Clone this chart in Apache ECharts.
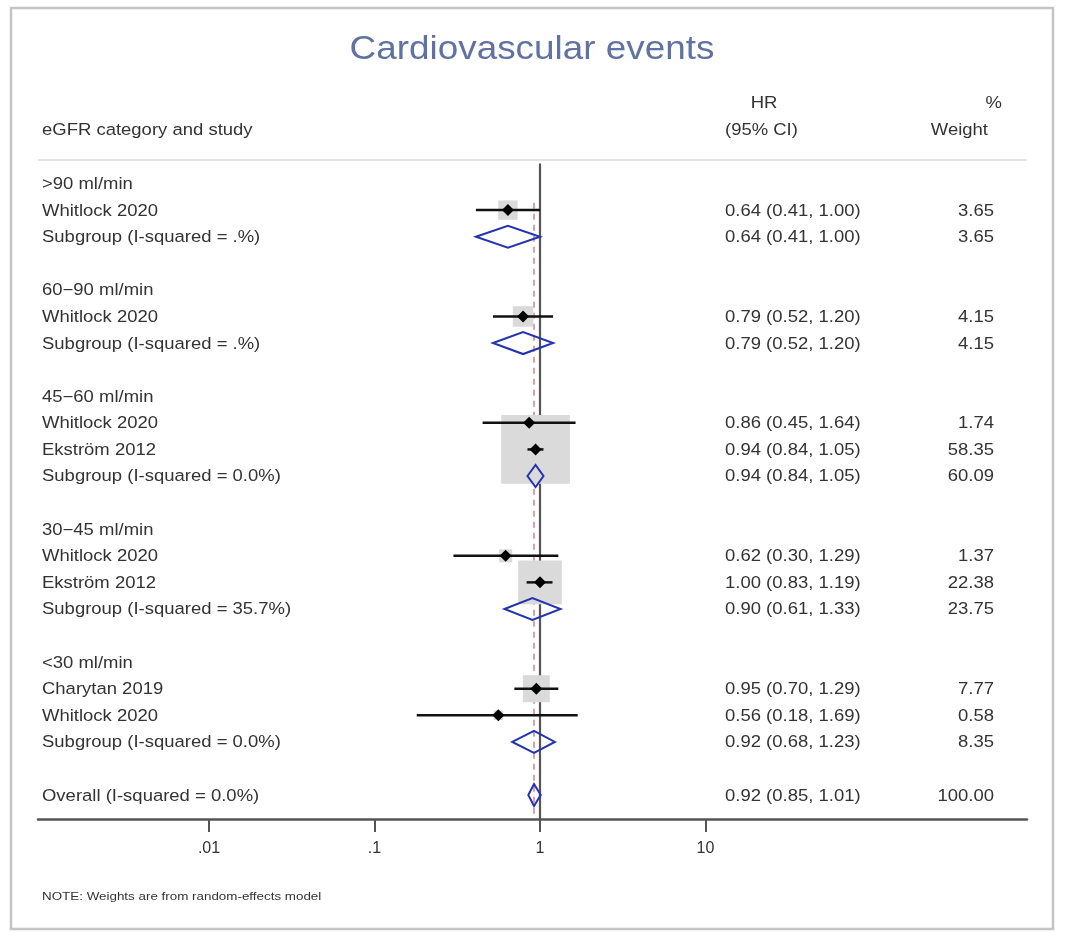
<!DOCTYPE html>
<html>
<head>
<meta charset="utf-8">
<title>Cardiovascular events</title>
<script src="https://cdn.jsdelivr.net/npm/echarts@6.0.0/dist/echarts.min.js"></script>
<style>
html, body { margin: 0; padding: 0; background: #fff; }
#chart { width: 1066px; height: 937px; }
</style>
</head>
<body>
<div id="chart"></div>
<script>
// eGFR subgroups and the studies in them
const groupNames = ['>90 ml/min', '60−90 ml/min', '45−60 ml/min', '30−45 ml/min', '<30 ml/min']
const studyNames = ['Whitlock 2020', 'Whitlock 2020', 'Whitlock 2020', 'Ekström 2012', 'Whitlock 2020', 'Ekström 2012', 'Charytan 2019', 'Whitlock 2020']
const studyGroup = [0, 1, 2, 2, 3, 3, 4, 4]
const studyHR = [0.64, 0.79, 0.86, 0.94, 0.62, 1.00, 0.95, 0.56]
const studyLo = [0.41, 0.52, 0.45, 0.84, 0.30, 0.83, 0.70, 0.18]
const studyHi = [1.00, 1.20, 1.64, 1.05, 1.29, 1.19, 1.29, 1.69]
const studyWeight = [3.65, 4.15, 1.74, 58.35, 1.37, 22.38, 7.77, 0.58]

// pooled subgroup results
const subHR = [0.64, 0.79, 0.94, 0.90, 0.92]
const subLo = [0.41, 0.52, 0.84, 0.61, 0.68]
const subHi = [1.00, 1.20, 1.05, 1.33, 1.23]
const subWeight = [3.65, 4.15, 60.09, 23.75, 8.35]
const subI2 = ['.%', '.%', '0.0%', '35.7%', '0.0%']

// overall
const overallHR = 0.92
const overallLo = 0.85
const overallHi = 1.01
const overallWeight = 100.00
const overallI2 = '0.0%'

// x axis
const tickValues = [0.01, 0.1, 1, 10]
const tickLabels = ['.01', '.1', '1', '10']

const lg = v => Math.log10(v)
const fmtCI = (h, l, u) => h.toFixed(2) + ' (' + l.toFixed(2) + ', ' + u.toFixed(2) + ')'

// lay rows out: group title, studies, subgroup, blank line
let row = 0
const textRows = []
const studyRows = []
const diamondRows = []
groupNames.forEach((g, gi) => {
  textRows.push([row, g, '', ''])
  row++
  studyGroup.forEach((sg, i) => {
    if (sg !== gi) return
    textRows.push([row, studyNames[i], fmtCI(studyHR[i], studyLo[i], studyHi[i]), studyWeight[i].toFixed(2)])
    studyRows.push([lg(studyHR[i]), lg(studyLo[i]), lg(studyHi[i]), row, studyWeight[i]])
    row++
  })
  textRows.push([row, 'Subgroup (I-squared = ' + subI2[gi] + ')', fmtCI(subHR[gi], subLo[gi], subHi[gi]), subWeight[gi].toFixed(2)])
  diamondRows.push([lg(subHR[gi]), lg(subLo[gi]), lg(subHi[gi]), row])
  row += 2
})
textRows.push([row, 'Overall (I-squared = ' + overallI2 + ')', fmtCI(overallHR, overallLo, overallHi), overallWeight.toFixed(2)])
diamondRows.push([lg(overallHR), lg(overallLo), lg(overallHi), row])
const axisRow = row + 0.9

// layout
const gridLeft = 38
const gridRight = 1027
const oneAt = 540        // pixel of HR = 1
const decadePx = 165.5
const xMin = (gridLeft - oneAt) / decadePx
const xMax = (gridRight - oneAt) / decadePx
const FONT = '"Liberation Sans", Arial, Helvetica, sans-serif'
const SX = 1.135
const txtColor = '#333'

function txt(text, x, y, size, align, color) {
  return {
    type: 'text', x: x, y: y, scaleX: SX,
    style: {
      text: text, font: size + 'px ' + FONT, fill: color || txtColor,
      align: align, verticalAlign: 'middle', textAlign: align, textVerticalAlign: 'middle'
    }
  }
}

const chart = echarts.init(document.getElementById('chart'))

const option = {
  backgroundColor: '#fff',
  animation: false,
  grid: { left: gridLeft, width: gridRight - gridLeft, top: 24, height: 795, outerBoundsMode: 'none' },
  xAxis: {
    type: 'value', min: xMin, max: xMax,
    splitLine: { show: false },
    axisLine: { show: true, onZero: false, lineStyle: { color: '#555', width: 2.5 } },
    axisTick: { show: true, customValues: tickValues.map(lg), length: 13, lineStyle: { color: '#555', width: 2 } },
    axisLabel: {
      show: true, customValues: tickValues.map(lg), margin: 22,
      fontSize: 16, fontFamily: FONT, color: txtColor,
      formatter: v => {
        const i = tickValues.findIndex(t => Math.abs(lg(t) - v) < 1e-6)
        return i >= 0 ? tickLabels[i] : ''
      }
    }
  },
  yAxis: { type: 'value', min: -6, max: axisRow, inverse: true, show: false },
  graphic: [
    { type: 'rect', shape: { x: 11, y: 8, width: 1042, height: 921 }, style: { fill: 'none', stroke: '#c4c4c4', lineWidth: 2.5 } },
    { type: 'line', shape: { x1: gridLeft, y1: 160, x2: gridRight, y2: 160 }, style: { stroke: '#e4e4e4', lineWidth: 2 } },
    txt('Cardiovascular events', 532, 50, 32.5, 'center', '#5f72a2'),
    txt('eGFR category and study', 42, 131, 16.3, 'left'),
    txt('HR', 764, 104, 16.3, 'center'),
    txt('(95% CI)', 725, 131, 16.3, 'left'),
    txt('%', 1002, 104, 16.3, 'right'),
    txt('Weight', 988, 131, 16.3, 'right'),
    txt('NOTE: Weights are from random-effects model', 42, 897, 11.8, 'left')
  ],
  series: [
    {
      // null line at HR = 1 and dashed line at the overall estimate
      type: 'custom', z: 1, silent: true,
      encode: { x: 0, y: 1 },
      data: [[0, -0.75, axisRow, 0], [lg(overallHR), 0.72, axisRow, 1]],
      renderItem: (params, api) => {
        const a = api.coord([api.value(0), api.value(1)])
        const b = api.coord([api.value(0), api.value(2)])
        const dashed = api.value(3) === 1
        return {
          type: 'line',
          shape: { x1: a[0], y1: a[1], x2: b[0], y2: b[1] },
          style: dashed ? { stroke: '#d88f9a', lineWidth: 1.7, lineDash: [6, 5] } : { stroke: '#555', lineWidth: 2.2 }
        }
      }
    },
    {
      // weight boxes
      type: 'custom', z: 2, silent: true,
      encode: { x: 0, y: 3 },
      data: studyRows,
      renderItem: (params, api) => {
        const c = api.coord([api.value(0), api.value(3)])
        const s = 3 + 8.6 * Math.sqrt(api.value(4))
        return { type: 'rect', shape: { x: c[0] - s / 2, y: c[1] - s / 2, width: s, height: s }, style: { fill: '#dadada' } }
      }
    },
    {
      // confidence intervals and point estimates
      type: 'custom', z: 3, silent: true,
      encode: { x: 0, y: 3 },
      data: studyRows,
      renderItem: (params, api) => {
        const c = api.coord([api.value(0), api.value(3)])
        const lo = api.coord([api.value(1), api.value(3)])
        const hi = api.coord([api.value(2), api.value(3)])
        const r = 6
        return {
          type: 'group',
          children: [
            { type: 'line', shape: { x1: lo[0], y1: lo[1], x2: hi[0], y2: hi[1] }, style: { stroke: '#111', lineWidth: 2.5 } },
            { type: 'polygon', shape: { points: [[c[0] - r, c[1]], [c[0], c[1] - r], [c[0] + r, c[1]], [c[0], c[1] + r]] }, style: { fill: '#000' } }
          ]
        }
      }
    },
    {
      // pooled diamonds
      type: 'custom', z: 4, silent: true,
      encode: { x: 0, y: 3 },
      data: diamondRows,
      renderItem: (params, api) => {
        const c = api.coord([api.value(0), api.value(3)])
        const lo = api.coord([api.value(1), api.value(3)])
        const hi = api.coord([api.value(2), api.value(3)])
        const h = 11
        return {
          type: 'polygon',
          shape: { points: [[lo[0], c[1]], [c[0], c[1] - h], [hi[0], c[1]], [c[0], c[1] + h]] },
          style: { fill: 'none', stroke: '#2434b0', lineWidth: 2 }
        }
      }
    },
    {
      // table text
      type: 'custom', z: 5, silent: true,
      encode: { y: 0 },
      data: textRows,
      renderItem: (params, api) => {
        const y = api.coord([0, api.value(0)])[1] + 1
        const d = textRows[params.dataIndex]
        return {
          type: 'group',
          children: [
            txt(d[1], 42, y, 16.3, 'left'),
            txt(d[2], 725, y, 16.3, 'left'),
            txt(d[3], 994, y, 16.3, 'right')
          ]
        }
      }
    }
  ]
}

chart.setOption(option)
window.addEventListener('resize', function () {
  chart.resize()
})
</script>
</body>
</html>
